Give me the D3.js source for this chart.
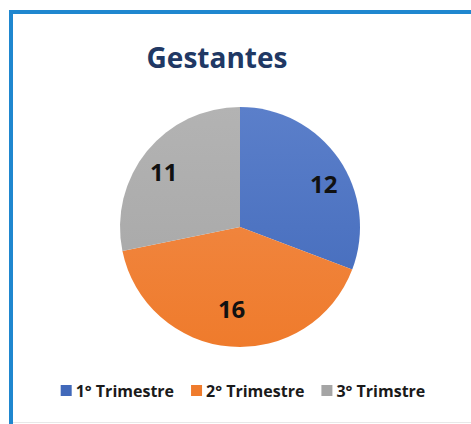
<!DOCTYPE html>
<head>
  <meta charset="utf-8">
  <title>Gestantes</title>
  <script src="https://cdn.jsdelivr.net/npm/d3@7/dist/d3.min.js"></script>
  <style>
    body { margin: 0; background: #fff; }
    text { font-family: "Open Sans", "Noto Sans", sans-serif; font-weight: bold; }
  </style>
</head>
<body>
<div id="container"></div>
<script>
  // data
  const categories = ['1° Trimestre', '2° Trimestre', '3° Trimstre'];
  const values = [12, 16, 11];
  const colors = ['#4169ba', '#ef7b2c', '#a5a5a5'];
  const lightColors = ['#5b7fca', '#f18d4d', '#b3b3b3'];

  const width = 471, height = 424;
  const cx = 240, cy = 227, radius = 120;

  const svg = d3.select('#container').append('svg')
    .attr('width', width)
    .attr('height', height);

  // frame: blue top and left edge, faint line at bottom
  svg.append('line')
    .attr('x1', 9).attr('x2', width).attr('y1', 12).attr('y2', 12)
    .style('stroke', '#1f87cf').style('stroke-width', 4);
  svg.append('line')
    .attr('x1', 11).attr('x2', 11).attr('y1', 10).attr('y2', height)
    .style('stroke', '#1f87cf').style('stroke-width', 4);
  svg.append('line')
    .attr('x1', 13).attr('x2', width).attr('y1', 422.5).attr('y2', 422.5)
    .style('stroke', '#e8e8e8').style('stroke-width', 1);

  // title
  svg.append('text')
    .attr('x', 217)
    .attr('y', 68)
    .style('text-anchor', 'middle')
    .style('font-size', '28px')
    .style('fill', '#203864')
    .text('Gestantes');

  // gradients, light top to darker bottom (in pie group coordinates)
  const defs = svg.append('defs');
  const grad = defs.selectAll('linearGradient')
    .data(colors)
    .enter()
    .append('linearGradient')
      .attr('id', (d, i) => 'g' + i)
      .attr('gradientUnits', 'userSpaceOnUse')
      .attr('x1', 0).attr('y1', -radius)
      .attr('x2', 0).attr('y2', radius);
  grad.append('stop').attr('offset', '0%').attr('stop-color', (d, i) => lightColors[i]);
  grad.append('stop').attr('offset', '100%').attr('stop-color', d => d);

  const pie = d3.pie().sort(null).value(d => d);
  const arcs = pie(values);
  const arc = d3.arc().innerRadius(0).outerRadius(radius);
  const labelArc = d3.arc().innerRadius(92).outerRadius(92);
  // small nudges, like Excel's best-fit placement
  const labelNudge = [[8, 10], [-1, -9], [-5, 4]];

  const pieGroup = svg.append('g')
    .attr('transform', `translate(${cx},${cy})`);

  pieGroup.selectAll('path')
    .data(arcs)
    .enter()
    .append('path')
      .attr('d', arc)
      .style('fill', (d, i) => `url(#g${i})`);

  pieGroup.selectAll('text')
    .data(arcs)
    .enter()
    .append('text')
      .attr('x', (d, i) => labelArc.centroid(d)[0] + labelNudge[i][0])
      .attr('y', (d, i) => labelArc.centroid(d)[1] + labelNudge[i][1])
      .attr('dy', '0.35em')
      .style('text-anchor', 'middle')
      .style('font-size', '24px')
      .style('fill', '#111')
      .text(d => d.data);

  // legend
  const legend = svg.append('g')
    .attr('transform', 'translate(0, 391)');

  const items = legend.selectAll('g')
    .data(categories)
    .enter()
    .append('g');

  items.append('rect')
    .attr('y', -6)
    .attr('width', 11)
    .attr('height', 11)
    .style('fill', (d, i) => colors[i]);

  items.append('text')
    .attr('x', 15)
    .attr('dy', '0.35em')
    .style('font-size', '16px')
    .style('fill', '#1a1a1a')
    .text(d => d);

  // place items one after the other and center the row
  const gap = 17;
  let xPos = 0;
  const starts = [];
  items.each(function() {
    starts.push(xPos);
    xPos += this.getBBox().width + gap;
  });
  const total = xPos - gap;
  const x0 = 243 - total / 2;
  items.attr('transform', (d, i) => `translate(${x0 + starts[i]},0)`);
</script>
</body>
